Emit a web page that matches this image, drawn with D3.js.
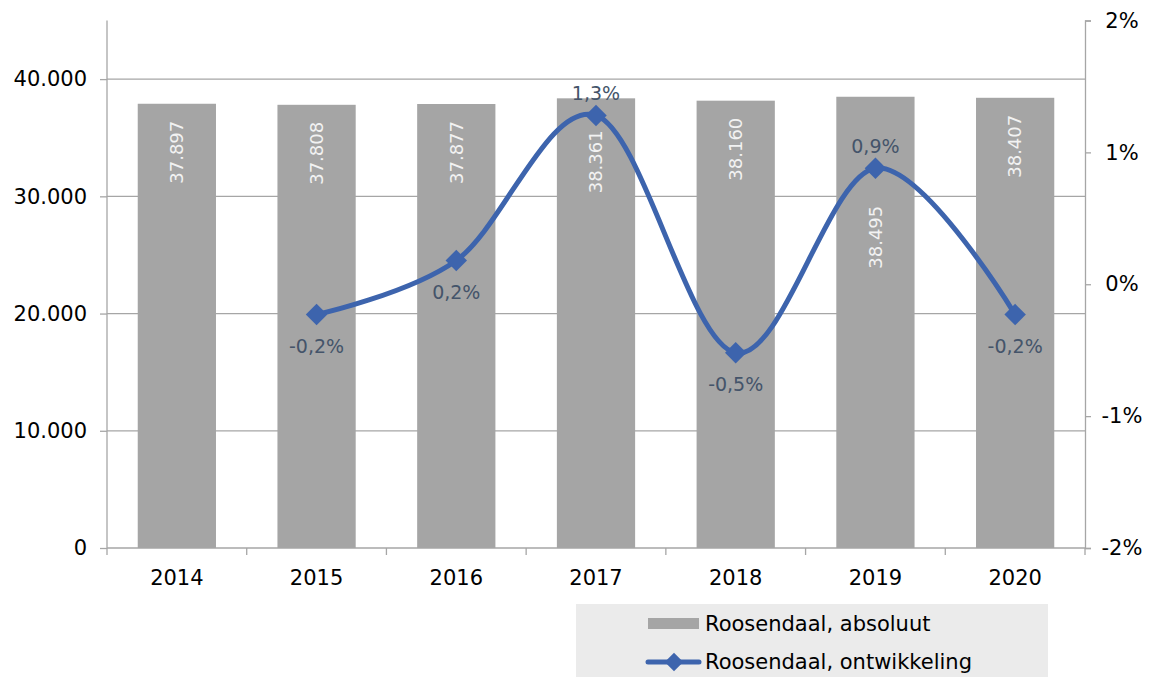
<!DOCTYPE html>
<html>
<head>
<meta charset="utf-8">
<script src="https://cdn.jsdelivr.net/npm/d3@7"></script>
<style>
  body { margin: 0; background: #fff; }
  text { font-family: Verdana, "DejaVu Sans", sans-serif; }
</style>
</head>
<body>
<div id="chart"></div>
<script>
// data
var years = ["2014", "2015", "2016", "2017", "2018", "2019", "2020"];
var absoluut = [37897, 37808, 37877, 38361, 38160, 38495, 38407];
var ontwikkeling = [null, -0.23, 0.18, 1.28, -0.52, 0.88, -0.23];
var leftTicks = [0, 10000, 20000, 30000, 40000];
var rightTicks = [-2, -1, 0, 1, 2];
var seriesNames = ["Roosendaal, absoluut", "Roosendaal, ontwikkeling"];

var W = 1156, H = 677;
var plot = {left: 107, right: 1085, top: 20.5, bottom: 548};

var svg = d3.select("#chart").append("svg")
  .attr("width", W)
  .attr("height", H);

// scales
var x = d3.scaleBand().domain(years).range([plot.left, plot.right]).paddingInner(0.44).paddingOuter(0.22);
var xc = function(d) { return x(d) + x.bandwidth() / 2; };
var y = d3.scaleLinear().domain([0, 45000]).range([plot.bottom, plot.top]);
var y2 = d3.scaleLinear().domain([-2, 2]).range([plot.bottom, plot.top]);

// dutch number format, plain hyphen as minus
var nl = d3.formatLocale({decimal: ",", thousands: ".", grouping: [3], currency: ["€", ""], minus: "-"});
var fmtInt = nl.format(",d");
var fmtPct = nl.format(".1f");

// gridlines
svg.append("g").selectAll("line")
  .data(leftTicks.slice(1))
  .enter().append("line")
    .attr("x1", plot.left).attr("x2", plot.right)
    .attr("y1", function(d) { return y(d); })
    .attr("y2", function(d) { return y(d); })
    .attr("stroke", "#a6a6a6")
    .attr("stroke-width", 1.3);

// bars
svg.append("g").selectAll("rect")
  .data(absoluut)
  .enter().append("rect")
    .attr("x", function(d, i) { return x(years[i]); })
    .attr("width", x.bandwidth())
    .attr("y", function(d) { return y(d); })
    .attr("height", function(d) { return y(0) - y(d); })
    .attr("fill", "#a5a5a5");

// bar labels (a couple were moved down by hand in the original)
var nudge = {"2017": 15, "2019": 92};
svg.append("g").selectAll("text")
  .data(absoluut)
  .enter().append("text")
    .attr("transform", function(d, i) {
      var ty = y(d) + 17 + (nudge[years[i]] || 0);
      return "translate(" + xc(years[i]) + "," + ty + ") rotate(-90)";
    })
    .attr("dy", "0.35em")
    .style("text-anchor", "end")
    .style("font-size", "18px")
    .style("fill", "#f2f2f2")
    .text(function(d) { return fmtInt(d); });

// left axis
var yAxis = svg.append("g")
  .attr("transform", "translate(" + plot.left + ",0)")
  .call(d3.axisLeft(y).tickValues(leftTicks).tickSize(7).tickPadding(13).tickFormat(fmtInt));
yAxis.select(".domain").attr("d", "M0," + plot.top + "V" + plot.bottom);

// right axis
var y2Axis = svg.append("g")
  .attr("transform", "translate(" + plot.right + ",0)")
  .call(d3.axisRight(y2).tickValues(rightTicks).tickSize(6).tickPadding(20)
    .tickFormat(function(d) { return nl.format("d")(d) + "%"; }));
y2Axis.selectAll("text").attr("text-anchor", "middle").attr("x", 37);

// x axis, ticks between categories
var xAxis = svg.append("g")
  .attr("transform", "translate(0," + plot.bottom + ")");
xAxis.append("line")
  .attr("x1", plot.left).attr("x2", plot.right)
  .attr("stroke", "#a6a6a6").attr("stroke-width", 1.3);
xAxis.selectAll(".tk")
  .data(d3.range(years.length + 1))
  .enter().append("line")
    .attr("class", "tk")
    .attr("x1", function(i) { return plot.left + i * (plot.right - plot.left) / years.length; })
    .attr("x2", function(i) { return plot.left + i * (plot.right - plot.left) / years.length; })
    .attr("y1", 0).attr("y2", 7)
    .attr("stroke", "#a6a6a6").attr("stroke-width", 1.3);
xAxis.selectAll(".lbl")
  .data(years)
  .enter().append("text")
    .attr("class", "lbl")
    .attr("x", function(d) { return xc(d); })
    .attr("y", 37)
    .style("text-anchor", "middle")
    .style("font-size", "21px")
    .style("fill", "#000")
    .text(function(d) { return d; });

[yAxis, y2Axis].forEach(function(a) {
  a.select(".domain").attr("stroke", "#a6a6a6").attr("stroke-width", 1.3);
  a.selectAll(".tick line").attr("stroke", "#a6a6a6").attr("stroke-width", 1.3);
  a.selectAll("text").style("font-size", "21px").style("fill", "#000");
});

// the development line
var pts = [];
ontwikkeling.forEach(function(v, i) { if (v !== null) pts.push({year: years[i], v: v, i: i}); });

var line = d3.line()
  .curve(d3.curveCardinal.tension(0))
  .x(function(d) { return xc(d.year); })
  .y(function(d) { return y2(d.v); });

svg.append("path")
  .datum(pts)
  .attr("d", line)
  .attr("fill", "none")
  .attr("stroke", "#3d64ad")
  .attr("stroke-width", 5)
  .attr("stroke-linecap", "round");

var diamond = d3.symbol().type(d3.symbolSquare).size(230);
svg.append("g").selectAll("path")
  .data(pts)
  .enter().append("path")
    .attr("d", diamond)
    .attr("transform", function(d) { return "translate(" + xc(d.year) + "," + y2(d.v) + ") rotate(45)"; })
    .attr("fill", "#3d64ad");

// line labels: above on the peaks, below elsewhere
svg.append("g").selectAll("text")
  .data(pts)
  .enter().append("text")
    .attr("x", function(d) { return xc(d.year); })
    .attr("y", function(d) {
      var prev = ontwikkeling[d.i - 1], next = ontwikkeling[d.i + 1];
      var peak = prev != null && next != null && d.v > prev && d.v > next;
      return y2(d.v) + (peak ? -22 : 32);
    })
    .attr("dy", "0.35em")
    .style("text-anchor", "middle")
    .style("font-size", "19px")
    .style("fill", "#44546a")
    .text(function(d) { return fmtPct(d.v) + "%"; });

// legend
var lg = svg.append("g");
lg.append("rect")
  .attr("x", 576).attr("y", 604)
  .attr("width", 472).attr("height", 73)
  .attr("fill", "#ebebeb");
lg.append("rect")
  .attr("x", 648).attr("y", 618)
  .attr("width", 51).attr("height", 11)
  .attr("fill", "#a5a5a5");
lg.append("line")
  .attr("x1", 648).attr("x2", 699)
  .attr("y1", 662).attr("y2", 662)
  .attr("stroke", "#3d64ad").attr("stroke-width", 5)
  .attr("stroke-linecap", "round");
lg.append("path")
  .attr("d", d3.symbol().type(d3.symbolSquare).size(170))
  .attr("transform", "translate(674,662) rotate(45)")
  .attr("fill", "#3d64ad");
lg.selectAll(".lt")
  .data(seriesNames)
  .enter().append("text")
    .attr("class", "lt")
    .attr("x", 705)
    .attr("y", function(d, i) { return i === 0 ? 624 : 662; })
    .attr("dy", "0.35em")
    .style("font-size", "21px")
    .style("fill", "#000")
    .text(function(d) { return d; });
</script>
</body>
</html>
